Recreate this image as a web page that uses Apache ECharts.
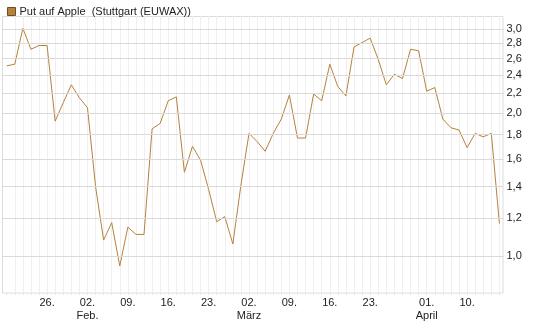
<!DOCTYPE html>
<html>
<head>
<meta charset="utf-8">
<script src="https://cdn.jsdelivr.net/npm/echarts@6/dist/echarts.min.js"></script>
<style>
  html, body { margin: 0; padding: 0; background: #fff; }
  #chart { width: 545px; height: 327px; }
</style>
</head>
<body>
<div id="chart"></div>
<script>
  const seriesName = 'Put auf Apple  (Stuttgart (EUWAX))'

  // Handelstage (Stuttgart, Wochenenden + Ostern fehlen)
  const days = [
    '19.01.2015', '20.01.2015', '21.01.2015', '22.01.2015', '23.01.2015',
    '26.01.2015', '27.01.2015', '28.01.2015', '29.01.2015', '30.01.2015',
    '02.02.2015', '03.02.2015', '04.02.2015', '05.02.2015', '06.02.2015',
    '09.02.2015', '10.02.2015', '11.02.2015', '12.02.2015', '13.02.2015',
    '16.02.2015', '17.02.2015', '18.02.2015', '19.02.2015', '20.02.2015',
    '23.02.2015', '24.02.2015', '25.02.2015', '26.02.2015', '27.02.2015',
    '02.03.2015', '03.03.2015', '04.03.2015', '05.03.2015', '06.03.2015',
    '09.03.2015', '10.03.2015', '11.03.2015', '12.03.2015', '13.03.2015',
    '16.03.2015', '17.03.2015', '18.03.2015', '19.03.2015', '20.03.2015',
    '23.03.2015', '24.03.2015', '25.03.2015', '26.03.2015', '27.03.2015',
    '30.03.2015', '31.03.2015', '01.04.2015', '02.04.2015',
    '07.04.2015', '08.04.2015', '09.04.2015', '10.04.2015',
    '13.04.2015', '14.04.2015', '15.04.2015', '16.04.2015'
  ]

  const prices = [
    2.51, 2.53, 3.01, 2.72, 2.77,
    2.77, 1.92, 2.10, 2.29, 2.15,
    2.05, 1.40, 1.08, 1.175, 0.953,
    1.15, 1.11, 1.11, 1.85, 1.90,
    2.12, 2.16, 1.50, 1.70, 1.59,
    1.38, 1.18, 1.21, 1.06, 1.41,
    1.81, 1.74, 1.66, 1.81, 1.94,
    2.18, 1.77, 1.77, 2.19, 2.12,
    2.53, 2.27, 2.17, 2.75, 2.81,
    2.87, 2.59, 2.29, 2.41, 2.36,
    2.72, 2.70, 2.22, 2.26,
    1.94, 1.86, 1.84, 1.69,
    1.81, 1.78, 1.81, 1.17
  ]

  const yTicks = [1.0, 1.2, 1.4, 1.6, 1.8, 2.0, 2.2, 2.4, 2.6, 2.8, 3.0]

  const xTickLabels = {
    '26.01.2015': '26.',
    '02.02.2015': '02.\nFeb.',
    '09.02.2015': '09.',
    '16.02.2015': '16.',
    '23.02.2015': '23.',
    '02.03.2015': '02.\nMärz',
    '09.03.2015': '09.',
    '16.03.2015': '16.',
    '23.03.2015': '23.',
    '01.04.2015': '01.\nApril',
    '10.04.2015': '10.'
  }

  const font = 'Liberation Sans, Arial, sans-serif'
  const lineColor = '#b5823b'

  let myChart = echarts.init(document.getElementById('chart'))
  myChart.setOption({
    animation: false,
    textStyle: { fontFamily: font },
    legend: {
      left: 2,
      top: 1,
      icon: 'rect',
      itemWidth: 8,
      itemHeight: 8,
      itemGap: 5,
      data: [seriesName],
      itemStyle: { color: lineColor, borderColor: '#6e4f22', borderWidth: 1 },
      textStyle: { fontSize: 11, color: '#222', fontFamily: font, padding: [0, 0, 0, -1] }
    },
    grid: {
      left: 6.7,
      right: 45.6,
      top: 16,
      bottom: 34
    },
    // Rahmen um die Zeichenfläche
    graphic: [{
      type: 'rect',
      silent: true,
      z: 0,
      shape: { x: 2.5, y: 16.5, width: 500.5, height: 276.5 },
      style: { fill: null, stroke: '#dcdcdc', lineWidth: 1 }
    }],
    xAxis: {
      type: 'category',
      data: days,
      boundaryGap: false,
      axisLine: { show: false },
      axisTick: {
        show: true,
        interval: 0,
        length: 2,
        lineStyle: { color: '#e6e6e6' }
      },
      splitLine: {
        show: true,
        interval: 0,
        showMinLine: false,
        lineStyle: { color: '#efefef', width: 1 }
      },
      axisLabel: {
        interval: (idx, val) => xTickLabels[val] !== undefined,
        formatter: val => xTickLabels[val] || '',
        fontSize: 11,
        lineHeight: 13,
        color: '#222',
        margin: 3,
        fontFamily: font
      }
    },
    yAxis: {
      type: 'log',
      position: 'right',
      min: 0.836,
      max: 3.195,
      axisLine: { show: false },
      axisTick: { show: false },
      axisLabel: { show: false },
      splitLine: { show: false }
    },
    series: [
      {
        // nur Gitterlinien + Beschriftung der rechten Achse
        type: 'line',
        data: [],
        z: 1,
        silent: true,
        markLine: {
          silent: true,
          symbol: ['none', 'none'],
          animation: false,
          lineStyle: { color: '#d9d9d9', width: 1, type: 'solid' },
          label: {
            position: 'end',
            distance: 3,
            formatter: '{b}',
            fontSize: 11,
            color: '#222',
            fontFamily: font
          },
          data: yTicks.map(v => {
            let txt = v.toFixed(1).replace('.', ',')
            return [{ x: 2.5, yAxis: v, name: txt }, { x: 503.5, yAxis: v, name: txt }]
          })
        }
      },
      {
        name: seriesName,
        type: 'line',
        data: prices,
        z: 3,
        showSymbol: false,
        symbol: 'none',
        lineStyle: { color: lineColor, width: 1 },
        itemStyle: { color: lineColor }
      }
    ]
  })
</script>
</body>
</html>
